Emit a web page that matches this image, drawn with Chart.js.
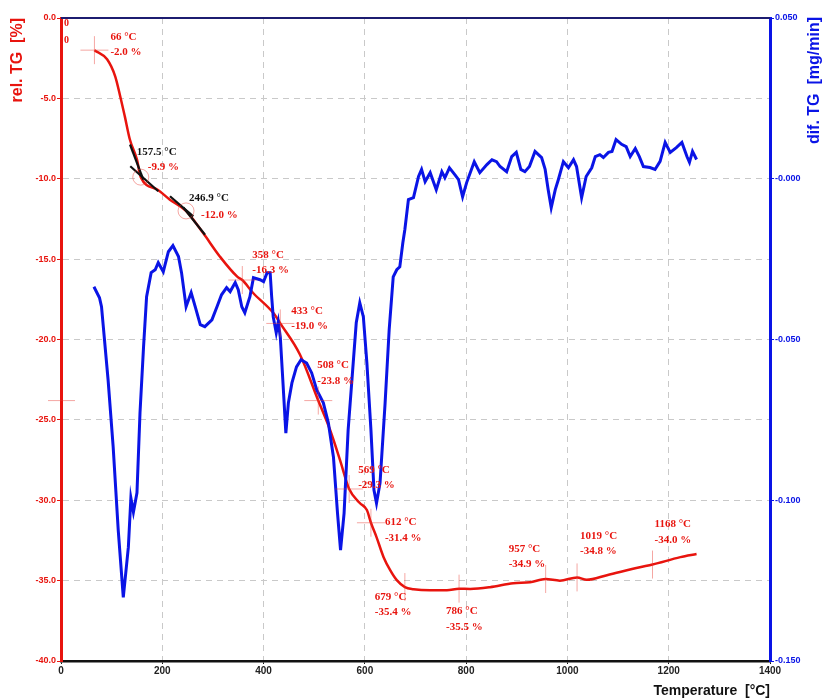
<!DOCTYPE html>
<html lang="en">
<head>
<meta charset="UTF-8">
<title>TG / DTG</title>
<script src="https://cdn.jsdelivr.net/npm/chart.js"></script>
<style>
  html, body { margin: 0; padding: 0; background: #fff; }
  #wrap { width: 824px; height: 700px; }
</style>
</head>
<body>
<div id="wrap"><canvas id="tg" width="824" height="700"></canvas></div>
<script>
// TG curve: temperature [°C] / relative mass [%]
const tgTemp = [66, 91, 107, 117, 126, 136, 150, 157.5, 190, 215, 246.9, 280, 314, 348, 358, 379, 419, 433,
  472, 508, 531, 551, 569, 590, 604, 612, 623, 637, 650, 663, 679, 696, 729, 762, 786, 808, 847, 893, 926,
  957, 985, 1019, 1038, 1078, 1143, 1168, 1223, 1255];
const tgMass = [-2.0, -2.57, -3.63, -4.88, -6.12, -7.56, -8.81, -9.9, -10.67, -11.3, -12.0, -13.35, -14.85, -16.09, -16.3, -17.09, -18.34, -19.0,
  -20.95, -23.8, -25.6, -27.5, -29.3, -30.17, -30.61, -31.4, -32.29, -33.54, -34.35, -34.97, -35.4, -35.53, -35.6, -35.6, -35.5, -35.52, -35.41, -35.16, -35.1,
  -34.9, -35.0, -34.8, -34.95, -34.66, -34.17, -34.0, -33.54, -33.35];

// DTG curve: temperature [°C] / rate [mg/min]
const dtgTemp = [65, 76, 80, 93, 103, 113, 123, 133, 138, 143, 150, 156, 163, 169, 178, 186, 192, 202, 212, 221,
  232, 238, 247, 257, 265, 275, 284, 298, 308, 317, 327, 334, 344, 350, 357, 363, 373, 380, 393, 400, 407, 413,
  416, 419, 425, 429, 433, 438, 444, 449, 456, 465, 474, 485, 495, 505, 518, 528, 538, 546, 552, 559, 567, 576,
  583, 590, 597, 604, 612, 618, 623, 630, 640, 648, 656, 663, 669, 675, 679, 686, 696, 706, 712, 719, 729, 741,
  752, 758, 767, 778, 785, 793, 801, 816, 827, 841, 851, 860, 867, 880, 890, 899, 908, 916, 925, 936, 949, 956,
  962, 968, 976, 982, 992, 1002, 1012, 1018, 1028, 1037, 1048, 1055, 1064, 1071, 1081, 1088, 1096, 1107, 1116,
  1124, 1134, 1142, 1150, 1163, 1173, 1183, 1193, 1203, 1215, 1226, 1236, 1241, 1247, 1255];
const dtgRate = [-0.0336, -0.0370, -0.0398, -0.0626, -0.0834, -0.1093, -0.1302, -0.1146, -0.0993, -0.1037, -0.0977, -0.0728, -0.0523, -0.0367, -0.0292, -0.0283, -0.0261, -0.0289, -0.0227, -0.0208,
  -0.0242, -0.0292, -0.0398, -0.0354, -0.0398, -0.0454, -0.0460, -0.0439, -0.0398, -0.0361, -0.0339, -0.0351, -0.0323, -0.0345, -0.0398, -0.0417, -0.0367, -0.0308, -0.0314, -0.0320, -0.0292, -0.0292,
  -0.0367, -0.0429, -0.0479, -0.0445, -0.0492, -0.0626, -0.0791, -0.0697, -0.0635, -0.0585, -0.0563, -0.0573, -0.0604, -0.0657, -0.0697, -0.0760, -0.0866, -0.1040, -0.1155, -0.1040, -0.0781, -0.0594,
  -0.0448, -0.0386, -0.0429, -0.0573, -0.0781, -0.0968, -0.1009, -0.0946, -0.0697, -0.0470, -0.0305, -0.0283, -0.0274, -0.0199, -0.0158, -0.0065, -0.0059, 0.0007, 0.0029, -0.0009, 0.0019, -0.0034,
  0.0022, 0.0003, 0.0034, 0.0012, -0.0003, -0.0056, -0.0012, 0.0053, 0.0019, 0.0044, 0.0059, 0.0053, 0.0038, 0.0022, 0.0069, 0.0082, 0.0029, 0.0022, 0.0038, 0.0085, 0.0066, 0.0029,
  -0.0034, -0.0090, -0.0034, -0.0003, 0.0053, 0.0034, 0.0059, 0.0038, -0.0059, 0.0007, 0.0034, 0.0069, 0.0075, 0.0066, 0.0082, 0.0085, 0.0122, 0.0107, 0.0100,
  0.0069, 0.0094, 0.0069, 0.0038, 0.0035, 0.0029, 0.0054, 0.0113, 0.0082, 0.0097, 0.0113, 0.0069, 0.0051, 0.0085, 0.0060];

// evaluated steps on the TG curve
const stepTemp = [66, 157.5, 246.9, 358, 433, 508, 569, 612, 679, 786, 957, 1019, 1168];
const stepMass = [-2.0, -9.9, -12.0, -16.3, -19.0, -23.8, -29.3, -31.4, -35.4, -35.5, -34.9, -34.8, -34.0];

// onset tangents [[T1, m1], [T2, m2]]
const tangentLines = [
  [[136.3, -7.87], [162.5, -10.05]],
  [[136.8, -9.22], [192.1, -10.78]],
  [[215.2, -11.09], [261.2, -12.34]],
  [[241.5, -11.79], [284.4, -13.48]]
];

// how each step is marked and where its two text lines go (dx1, dy1, dx2, dy2)
const stepMarkType = ['cross', 'circle', 'circle', 'cross', 'cross', 'cross', 'cross', 'cross', 'vline', 'vline', 'vline', 'vline', 'vline'];
const stepLabelPos = [[16, -13, 16, 2], [-4, -25, 7, -10], [3, -13, 15, 4], [10, -25, 10, -10], [11, -12, 11, 3],
  [-1, -35, -1, -19], [9, -19, 9, -4], [14, -1, 14, 15], [-30, 10, -30, 25], [-13, 22, -13, 38],
  [-37, -30, -37, -15], [3, -41, 3, -26], [2, -40, 2, -24]];

const RED = '#e8140e';
const BLUE = '#0a14e6';
const MARK = 'rgba(232, 60, 50, 0.45)';

function fmtRate(v) {
  if (Math.abs(v) < 1e-9) return '-0.000';
  return v.toFixed(3);
}

const stepAnnotations = {
  id: 'stepAnnotations',
  afterDatasetsDraw(chart) {
    const ctx = chart.ctx;
    const xs = chart.scales.x, ys = chart.scales.y;
    const area = chart.chartArea;
    ctx.save();

    // top frame line
    ctx.strokeStyle = '#1c1c70';
    ctx.lineWidth = 2;
    ctx.beginPath();
    ctx.moveTo(area.left, area.top);
    ctx.lineTo(area.right, area.top);
    ctx.stroke();

    ctx.font = 'bold 11px "Liberation Serif", "Times New Roman", serif';
    ctx.textBaseline = 'middle';
    ctx.textAlign = 'left';
    for (let i = 0; i < stepTemp.length; i++) {
      const px = xs.getPixelForValue(stepTemp[i]);
      const py = ys.getPixelForValue(stepMass[i]);
      ctx.strokeStyle = MARK;
      ctx.lineWidth = 1;
      ctx.beginPath();
      if (stepMarkType[i] === 'circle') {
        ctx.arc(px, py, 8, 0, Math.PI * 2);
      } else if (stepMarkType[i] === 'vline') {
        ctx.moveTo(px, py - 14);
        ctx.lineTo(px, py + 14);
      } else {
        ctx.moveTo(px - 14, py);
        ctx.lineTo(px + 14, py);
        ctx.moveTo(px, py - 14);
        ctx.lineTo(px, py + 14);
      }
      ctx.stroke();

      const p = stepLabelPos[i];
      const onset = stepMarkType[i] === 'circle';
      ctx.fillStyle = onset ? '#111' : RED;
      ctx.fillText(stepTemp[i] + ' \u00B0C', px + p[0], py + p[1]);
      ctx.fillStyle = RED;
      ctx.fillText(stepMass[i].toFixed(1) + ' %', px + p[2], py + p[3]);
    }

    // level of the 508 °C step marked on the mass axis
    const ly = ys.getPixelForValue(stepMass[5]);
    ctx.strokeStyle = MARK;
    ctx.beginPath();
    ctx.moveTo(area.left - 13, ly);
    ctx.lineTo(area.left + 14, ly);
    ctx.stroke();

    // origin values
    ctx.fillStyle = RED;
    ctx.font = 'bold 10px "Liberation Serif", serif';
    ctx.fillText('0', area.left + 3, area.top + 5);
    ctx.fillText('0', area.left + 3, area.top + 22);

    // right axis title, reading bottom to top
    ctx.translate(chart.width - 9, area.top - 1);
    ctx.rotate(-Math.PI / 2);
    ctx.textAlign = 'right';
    ctx.fillStyle = BLUE;
    ctx.font = 'bold 16px "Liberation Sans", Arial, sans-serif';
    ctx.fillText('dif. TG  [mg/min]', 0, 0);
    ctx.restore();
  }
};

const gridColor = (ends) => (c) => (ends.includes(c.tick.value) ? 'rgba(0,0,0,0)' : '#c9c9c9');

new Chart(document.getElementById('tg'), {
  type: 'line',
  data: {
    datasets: [
      ...tangentLines.map(seg => ({
        data: seg.map(pt => ({ x: pt[0], y: pt[1] })),
        yAxisID: 'y',
        borderColor: '#111',
        borderWidth: 2.2,
        pointRadius: 0
      })),
      {
        label: 'dif. TG',
        data: dtgTemp.map((t, i) => ({ x: t, y: dtgRate[i] })),
        yAxisID: 'y2',
        borderColor: BLUE,
        borderWidth: 3,
        pointRadius: 0,
        tension: 0
      },
      {
        label: 'rel. TG',
        data: tgTemp.map((t, i) => ({ x: t, y: tgMass[i] })),
        yAxisID: 'y',
        borderColor: RED,
        borderWidth: 2.5,
        pointRadius: 0,
        cubicInterpolationMode: 'monotone'
      }
    ]
  },
  options: {
    responsive: false,
    animation: false,
    layout: { padding: { top: 18 } },
    plugins: { legend: { display: false }, tooltip: { enabled: false } },
    scales: {
      x: {
        type: 'linear',
        min: 0, max: 1400,
        afterFit: s => { s.height = 39; },
        ticks: { stepSize: 200, color: '#222', padding: 1, callback: v => String(v),
          font: { family: 'Liberation Sans', weight: 'bold', size: 10 } },
        grid: { color: gridColor([0, 1400]), tickColor: '#111', tickLength: 3 },
        border: { color: '#111', width: 2.5, dash: [6, 5] },
        title: { display: true, text: 'Temperature  [\u00B0C]', align: 'end', color: '#111',
          font: { family: 'Liberation Sans', weight: 'bold', size: 14 }, padding: { top: 2, bottom: 0 } }
      },
      y: {
        position: 'left',
        min: -40, max: 0,
        afterFit: s => { s.width = 61; },
        ticks: { stepSize: 5, color: RED, padding: 1, callback: v => v.toFixed(1),
          font: { family: 'Liberation Sans', weight: 'bold', size: 9 } },
        grid: { color: gridColor([0, -40]), tickColor: RED, tickLength: 4 },
        border: { color: RED, width: 3, dash: [6, 5] },
        title: { display: true, text: 'rel. TG  [%]', align: 'end', color: RED,
          font: { family: 'Liberation Sans', weight: 'bold', size: 16 }, padding: { top: 8, bottom: 2 } }
      },
      y2: {
        position: 'right',
        min: -0.15, max: 0.05,
        afterFit: s => { s.width = 54; },
        ticks: { stepSize: 0.05, color: BLUE, padding: 1, callback: fmtRate,
          font: { family: 'Liberation Sans', weight: 'bold', size: 9 } },
        grid: { drawOnChartArea: false, tickColor: BLUE, tickLength: 4 },
        border: { color: BLUE, width: 3 }
      }
    }
  },
  plugins: [stepAnnotations]
});
</script>
</body>
</html>
